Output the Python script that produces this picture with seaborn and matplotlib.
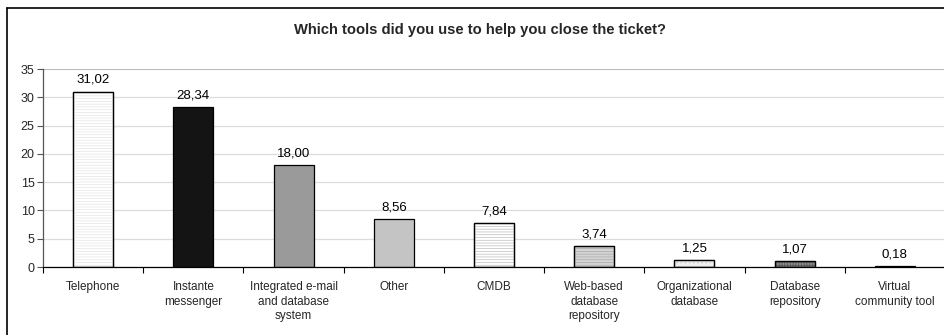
import matplotlib
matplotlib.use("Agg")
import matplotlib.pyplot as plt
import seaborn as sns
import pandas as pd
from matplotlib.lines import Line2D
from matplotlib.patches import Rectangle

tools = ["Telephone", "Instante\nmessenger", "Integrated e-mail\nand database\nsystem",
         "Other", "CMDB", "Web-based\ndatabase\nrepository", "Organizational\ndatabase",
         "Database\nrepository", "Virtual\ncommunity tool"]
shares = [31.02, 28.34, 18.00, 8.56, 7.84, 3.74, 1.25, 1.07, 0.18]
fills = ["#ffffff", "#141414", "#9a9a9a", "#c4c4c4", "#ffffff", "#d4d4d4", "#efefef", "#8c8c8c", "#111111"]
hatches = ["------", None, None, None, "------", "------", "....", "++++++", None]
hatch_cols = ["#e4e4e4", None, None, None, "#bdbdbd", "#a8a8a8", "#c8c8c8", "#555555", None]

sns.set_theme(style="white")
plt.rcParams["font.family"] = ["Liberation Sans", "DejaVu Sans"]
plt.rcParams["hatch.linewidth"] = 0.5

df = pd.DataFrame({"tool": tools, "share": shares})

fig = plt.figure(figsize=(9.45, 3.35), dpi=100)
ax = fig.add_axes([43 / 945, 1 - 267 / 335, 902 / 945, 198 / 335])
sns.barplot(data=df, x="tool", y="share", hue="tool", palette=fills, legend=False,
            width=0.4, edgecolor="#000000", linewidth=0.9, ax=ax)

# light hatching drawn as an overlay so the outline stays black
for bar, h, hc in zip(list(ax.patches), hatches, hatch_cols):
    if h:
        ov = Rectangle((bar.get_x(), 0), bar.get_width(), bar.get_height(), fill=False,
                       hatch=h, edgecolor=hc, linewidth=0, zorder=bar.get_zorder() + 0.1)
        ax.add_patch(ov)
        edge = Rectangle((bar.get_x(), 0), bar.get_width(), bar.get_height(), fill=False,
                         edgecolor="#000000", linewidth=0.9, zorder=bar.get_zorder() + 0.2)
        ax.add_patch(edge)

for i, v in enumerate(shares):
    ax.annotate(f"{v:.2f}".replace(".", ","), (i, v), xytext=(0, 4), textcoords="offset points",
                ha="center", va="bottom", fontsize=9.5, color="#000000")

ax.set_ylim(0, 35)
ax.set_xlim(-0.5, 8.5)
ax.set_yticks(range(0, 36, 5))
ax.yaxis.grid(True, color="#dcdcdc", linewidth=0.9)
ax.set_axisbelow(True)
ax.set_xlabel("")
ax.set_ylabel("")
for s in ["top", "right"]:
    ax.spines[s].set_visible(False)
ax.spines["left"].set_color("#555555")
ax.spines["bottom"].set_color("#000000")
ax.spines["left"].set_linewidth(0.9)
ax.spines["bottom"].set_linewidth(0.9)
ax.axhline(35, color="#b4b4b4", linewidth=1.2)

ax.tick_params(axis="y", left=True, length=4, width=0.8, color="#555555", labelsize=9, pad=2)
ax.set_xticks([x + 0.5 for x in range(-1, 9)], minor=True)
ax.tick_params(axis="x", which="major", bottom=False, labelsize=8.5, pad=4)
ax.tick_params(axis="x", which="minor", bottom=True, length=4, width=0.8, color="#000000")
for lab in ax.get_xticklabels():
    lab.set_linespacing(1.3)

fig.text(480 / 945, 1 - 30 / 335, "Which tools did you use to help you close the ticket?",
         ha="center", va="center", fontsize=10.6, fontweight="bold")

fig.add_artist(Line2D([7 / 945, 7 / 945], [0, 1 - 8 / 335], color="#000000", linewidth=1.2))
fig.add_artist(Line2D([7 / 945, 1], [1 - 8 / 335, 1 - 8 / 335], color="#000000", linewidth=1.2))

fig.savefig("out.png", dpi=100)
